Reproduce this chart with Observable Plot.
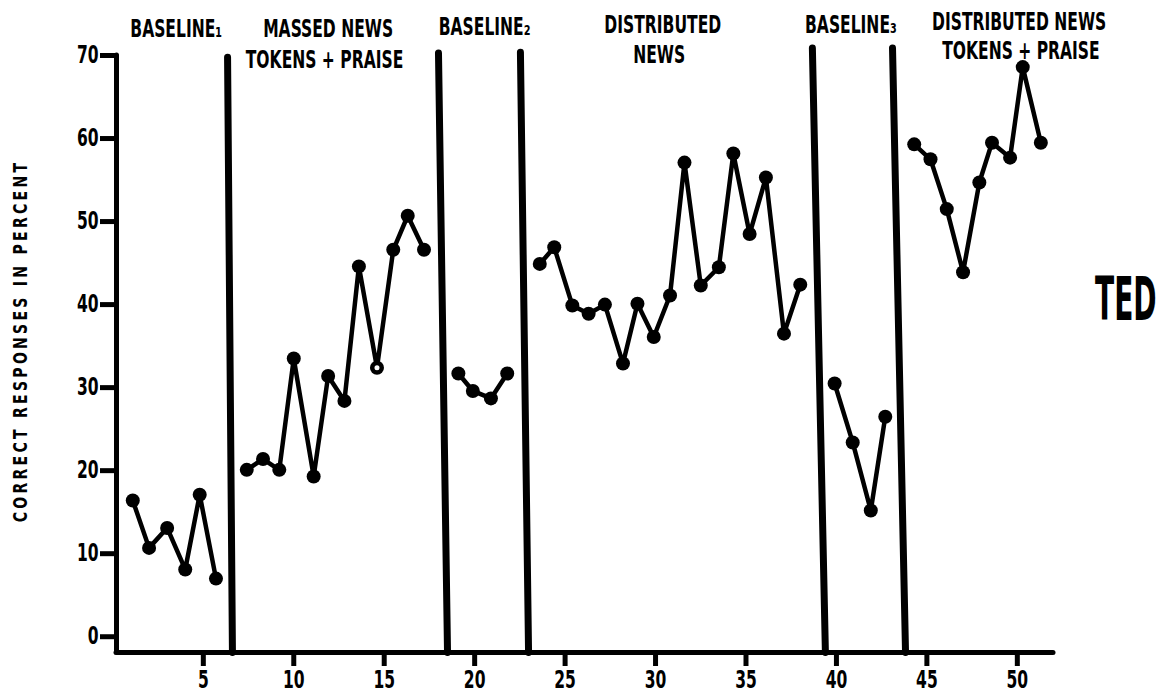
<!DOCTYPE html>
<html><head><meta charset="utf-8">
<script src="https://cdn.jsdelivr.net/npm/d3@7"></script>
<script src="https://cdn.jsdelivr.net/npm/@observablehq/plot@0.6"></script>
<style>body{margin:0;background:#fff}</style>
</head><body>
<div id="chart"></div>
<script>
// ---- data ----
const phaseNames = ["Baseline 1", "Massed news tokens + praise", "Baseline 2", "Distributed news", "Baseline 3", "Distributed news tokens + praise"];
const phaseCounts = [6, 12, 4, 17, 4, 9];
const sessionPos = [
  1.1, 2.0, 3.0, 4.0, 4.8, 5.7,
  7.4, 8.3, 9.2, 10.0, 11.1, 11.9, 12.8, 13.6, 14.6, 15.5, 16.3, 17.2,
  19.1, 19.9, 20.9, 21.8,
  23.6, 24.4, 25.4, 26.3, 27.2, 28.2, 29.0, 29.9, 30.8, 31.6, 32.5, 33.5, 34.3, 35.2, 36.1, 37.1, 38.0,
  39.9, 40.9, 41.9, 42.7,
  44.3, 45.2, 46.1, 47.0, 47.9, 48.6, 49.6, 50.3, 51.3
];
const percent = [
  16.4, 10.7, 13.1, 8.1, 17.1, 7.0,
  20.1, 21.4, 20.1, 33.5, 19.3, 31.4, 28.4, 44.6, 32.4, 46.6, 50.7, 46.6,
  31.7, 29.6, 28.7, 31.7,
  44.9, 46.9, 39.9, 38.9, 40.0, 32.9, 40.1, 36.1, 41.1, 57.1, 42.3, 44.5, 58.2, 48.5, 55.3, 36.5, 42.4,
  30.5, 23.4, 15.2, 26.5,
  59.3, 57.5, 51.5, 43.9, 54.7, 59.5, 57.7, 68.6, 59.5
];
const openPoints = [15];            // point drawn as an open circle
const phaseLineTopX = [6.34, 18.0, 22.53, 38.67, 43.1];
const phaseLineBottomX = [6.61, 18.5, 22.98, 39.39, 43.82];
const phaseLineTopY = [69.8, 70.3, 70.4, 70.9, 70.9];
const xTicks = [5, 10, 15, 20, 25, 30, 35, 40, 45, 50];
const yTicks = [0, 10, 20, 30, 40, 50, 60, 70];
const labelText = ["BASELINE\u2081", "MASSED NEWS", "TOKENS + PRAISE", "BASELINE\u2082", "DISTRIBUTED", "NEWS", "BASELINE\u2083", "DISTRIBUTED NEWS", "TOKENS + PRAISE"];
const labelX = [3.5, 11.9, 11.7, 20.55, 30.4, 30.2, 40.8, 50.1, 50.2];
const labelY = [73.1, 73.2, 69.4, 73.4, 73.6, 70.0, 73.6, 74.0, 70.5];
const subjectName = "TED";
const yTitle = "CORRECT RESPONSES IN PERCENT";

// ---- tables ----
const X0 = 0.2, X1 = 52, Y0 = -1.9, YTOP = 70;
const rows = [];
let k = 0;
phaseCounts.forEach((n, p) => {
  for (let i = 0; i < n; i++) {
    rows.push({x: sessionPos[k], y: percent[k], phase: phaseNames[p], idx: k + 1});
    k++;
  }
});
const phaseLines = phaseLineTopX.map((x, i) => ({xTop: x, xBottom: phaseLineBottomX[i], yTop: phaseLineTopY[i]}));
const labels = labelText.map((t, i) => ({text: t, x: labelX[i], y: labelY[i]}));

const chart = Plot.plot({
  width: 1173,
  height: 700,
  marginLeft: 116,
  marginRight: 120,
  marginTop: 55,
  marginBottom: 48,
  x: {domain: [X0, X1]},
  y: {domain: [Y0, YTOP]},
  style: {fontFamily: "'DejaVu Sans Condensed', 'DejaVu Sans', sans-serif", fontWeight: "bold", background: "white", color: "black"},
  marks: [
    Plot.ruleX([X0], {y1: Y0, y2: YTOP, strokeWidth: 5, strokeLinecap: "round"}),
    Plot.ruleY([Y0], {x1: X0, x2: X1, strokeWidth: 5, strokeLinecap: "round"}),
    Plot.link(phaseLines, {x1: "xTop", y1: "yTop", x2: "xBottom", y2: Y0, strokeWidth: 7, strokeLinecap: "round"}),
    Plot.axisY({ticks: yTicks, tickSize: 16, tickPadding: 2, fontSize: 24, strokeWidth: 5, label: null, tickFormat: d => String(d)}),
    Plot.axisX({ticks: xTicks, tickSize: 14, tickPadding: 4, fontSize: 24, strokeWidth: 5, label: null, tickFormat: d => String(d)}),
    Plot.line(rows, {x: "x", y: "y", z: "phase", stroke: "black", strokeWidth: 4.5, strokeLinejoin: "round"}),
    Plot.dot(rows, {x: "x", y: "y", r: 7, fill: "black"}),
    Plot.dot(rows.filter(d => openPoints.includes(d.idx)), {x: "x", y: "y", r: 2.5, fill: "white"}),
    Plot.text(labels, {x: "x", y: "y", text: "text", fontSize: 24, className: "lbl"}),
    Plot.text([subjectName], {x: 56.0, y: 40.5, text: d => d, fontSize: 60, className: "ted"}),
    Plot.text([yTitle], {frameAnchor: "left", textAnchor: "middle", rotate: -90, dx: -96, dy: -13, text: d => d, fontSize: 19, className: "ytitle"})
  ]
});
document.getElementById("chart").append(chart);

// condense lettering to resemble the narrow stencil type of the original
const svg = chart.tagName.toLowerCase() === "svg" ? chart : chart.querySelector("svg");
svg.querySelectorAll("text").forEach(t => {
  if (t.closest(".ted")) {
    // horizontal squeeze about the word's own centre
    const b = t.getBBox();
    const cx = b.x + b.width / 2;
    const prev = t.getAttribute("transform") || "";
    t.setAttribute("transform", `${prev} translate(${cx},0) scale(0.52,1) translate(${-cx},0)`.trim());
    return;
  }
  let f = 0.72;
  if (t.closest(".ytitle")) { t.style.letterSpacing = "4px"; f = 0.82; }
  const L = t.getComputedTextLength();
  if (L > 0) {
    t.setAttribute("textLength", (L * f).toFixed(1));
    t.setAttribute("lengthAdjust", "spacingAndGlyphs");
  }
});
</script>
</body></html>
